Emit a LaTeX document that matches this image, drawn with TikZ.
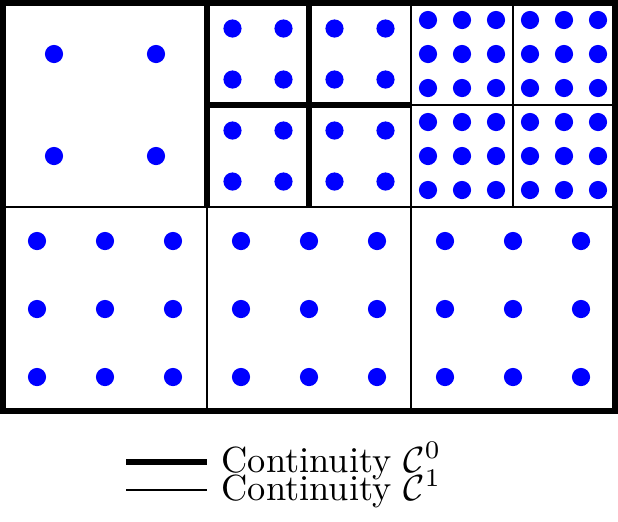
\documentclass[tikz,border=0pt]{standalone}
\usepackage{tikz}
\usetikzlibrary{positioning}
\definecolor{dotblue}{HTML}{0000FF}

\begin{document}
\begin{tikzpicture}[x=0.275pt,y=-0.275pt,czero/.style={line width=1.65pt},cone/.style={line width=0.4pt},pt/.style={fill=dotblue}]
\useasboundingbox (0,0) rectangle (618,521);
% C1 lines
\draw[cone] (3,207) -- (615,207);
\draw[cone] (207,207) -- (207,411);
\draw[cone] (411,3) -- (411,411);
\draw[cone] (513,3) -- (513,207);
\draw[cone] (411,105) -- (615,105);
% C0 lines
\draw[czero] (207,3) -- (207,207);
\draw[czero] (309,3) -- (309,207);
\draw[czero] (207,105) -- (411,105);
\draw[czero] (3,3) rectangle (615,411);
% points
\foreach \x in {54,156}
  \foreach \y in {54,156}
    \fill[pt] (\x,\y) circle[radius=2.5pt];
\foreach \ox/\oy in {207/3,309/3,207/105,309/105}
  \foreach \dx in {25.5,76.5}
    \foreach \dy in {25.5,76.5}
      \fill[pt] (\ox+\dx,\oy+\dy) circle[radius=2.5pt];
\foreach \ox/\oy in {411/3,513/3,411/105,513/105}
  \foreach \dx in {17,51,85}
    \foreach \dy in {17,51,85}
      \fill[pt] (\ox+\dx,\oy+\dy) circle[radius=2.5pt];
\foreach \ox in {3,207,411}
  \foreach \dx in {34,102,170}
    \foreach \dy in {34,102,170}
      \fill[pt] (\ox+\dx,207+\dy) circle[radius=2.5pt];
% legend
\coordinate (zeroA) at (126,462);
\coordinate (zeroB) at (207,462);
\coordinate (oneA) at (126,490);
\coordinate (oneB) at (207,490);
\draw[czero] (zeroA) -- (zeroB);
\draw[cone] (oneA) -- (oneB);
\node[anchor=base west,inner sep=0pt] (labzero) at (221,472) {Continuity $\mathcal{C}^0$};
\node[anchor=base west,inner sep=0pt] (labone) at (221,500) {Continuity $\mathcal{C}^1$};
\end{tikzpicture}
\end{document}
